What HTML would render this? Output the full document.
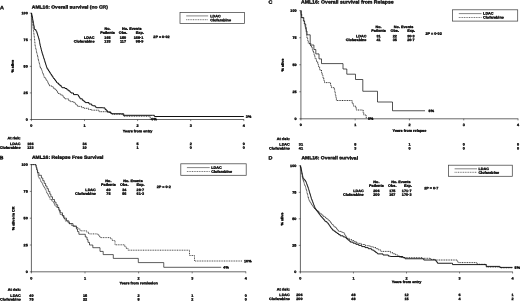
<!DOCTYPE html>
<html><head><meta charset="utf-8"><title>AML16 survival</title>
<style>
html,body{margin:0;padding:0;background:#fff;}
body{width:520px;height:301px;overflow:hidden;}
svg{display:block;}
svg text{font-family:"Liberation Sans",sans-serif;font-weight:bold;fill:#111;stroke:#111;stroke-width:0.36px;stroke-linejoin:round;text-rendering:geometricPrecision;}
</style></head><body>
<svg width="520" height="301" viewBox="0 0 520 301">
<rect x="0" y="0" width="520" height="301" fill="#ffffff"/>
<line x1="31.40" y1="12.90" x2="31.40" y2="119.90" stroke="#333" stroke-width="0.75"/>
<line x1="31.10" y1="119.50" x2="244.10" y2="119.50" stroke="#444" stroke-width="0.8"/>
<line x1="29.80" y1="119.50" x2="31.40" y2="119.50" stroke="#333" stroke-width="0.6"/>
<text transform="translate(27.80 120.64) rotate(0.03) scale(1.11 1)" font-size="3.402" text-anchor="end">0</text>
<line x1="29.80" y1="92.92" x2="31.40" y2="92.92" stroke="#333" stroke-width="0.6"/>
<text transform="translate(27.80 94.06) rotate(0.03) scale(1.11 1)" font-size="3.402" text-anchor="end">25</text>
<line x1="29.80" y1="66.35" x2="31.40" y2="66.35" stroke="#333" stroke-width="0.6"/>
<text transform="translate(27.80 67.49) rotate(0.03) scale(1.11 1)" font-size="3.402" text-anchor="end">50</text>
<line x1="29.80" y1="39.78" x2="31.40" y2="39.78" stroke="#333" stroke-width="0.6"/>
<text transform="translate(27.80 40.91) rotate(0.03) scale(1.11 1)" font-size="3.402" text-anchor="end">75</text>
<line x1="29.80" y1="13.20" x2="31.40" y2="13.20" stroke="#333" stroke-width="0.6"/>
<text transform="translate(27.80 14.34) rotate(0.03) scale(1.11 1)" font-size="3.402" text-anchor="end">100</text>
<line x1="31.40" y1="119.50" x2="31.40" y2="121.10" stroke="#333" stroke-width="0.6"/>
<text transform="translate(31.40 126.64) rotate(0.03) scale(1.11 1)" font-size="3.402" text-anchor="middle">0</text>
<line x1="84.50" y1="119.50" x2="84.50" y2="121.10" stroke="#333" stroke-width="0.6"/>
<text transform="translate(84.50 126.64) rotate(0.03) scale(1.11 1)" font-size="3.402" text-anchor="middle">1</text>
<line x1="137.60" y1="119.50" x2="137.60" y2="121.10" stroke="#333" stroke-width="0.6"/>
<text transform="translate(137.60 126.64) rotate(0.03) scale(1.11 1)" font-size="3.402" text-anchor="middle">2</text>
<line x1="190.70" y1="119.50" x2="190.70" y2="121.10" stroke="#333" stroke-width="0.6"/>
<text transform="translate(190.70 126.64) rotate(0.03) scale(1.11 1)" font-size="3.402" text-anchor="middle">3</text>
<line x1="243.80" y1="119.50" x2="243.80" y2="121.10" stroke="#333" stroke-width="0.6"/>
<text transform="translate(243.80 126.64) rotate(0.03) scale(1.11 1)" font-size="3.402" text-anchor="middle">4</text>
<text transform="translate(137.60 132.14) rotate(0.03) scale(1.11 1)" font-size="3.402" text-anchor="middle">Years from entry</text>
<text transform="translate(13.74,66.20) rotate(-89.97) scale(1.11 1)" font-size="3.402" text-anchor="middle">% alive</text>
<text transform="translate(-0.10 9.20) rotate(0.03) scale(1.11 1)" font-size="4.860" text-anchor="start">A</text>
<text transform="translate(31.80 8.50) rotate(0.03) scale(1.11 1)" font-size="4.518" text-anchor="start">AML16: Overall survival (no CR)</text>
<rect x="180.00" y="12.40" width="64.60" height="11.00" fill="none" stroke="#444" stroke-width="0.75"/>
<line x1="186.20" y1="15.90" x2="208.20" y2="15.90" stroke="#666" stroke-width="0.8"/>
<line x1="186.20" y1="19.70" x2="208.20" y2="19.70" stroke="#333" stroke-width="0.7" stroke-dasharray="1.0 0.7"/>
<text transform="translate(210.30 17.24) rotate(0.03) scale(1.11 1)" font-size="3.402" text-anchor="start">LDAC</text>
<text transform="translate(210.30 21.14) rotate(0.03) scale(1.11 1)" font-size="3.402" text-anchor="start">Clofarabine</text>
<text transform="translate(107.50 29.84) rotate(0.03) scale(1.11 1)" font-size="3.402" text-anchor="middle">No.</text>
<text transform="translate(107.50 33.64) rotate(0.03) scale(1.11 1)" font-size="3.402" text-anchor="middle">Patients</text>
<text transform="translate(131.80 29.84) rotate(0.03) scale(1.11 1)" font-size="3.402" text-anchor="middle">No. Events</text>
<text transform="translate(123.00 33.64) rotate(0.03) scale(1.11 1)" font-size="3.402" text-anchor="middle">Obs.</text>
<text transform="translate(143.80 33.64) rotate(0.03) scale(1.11 1)" font-size="3.402" text-anchor="end">Exp.</text>
<text transform="translate(94.50 38.64) rotate(0.03) scale(1.11 1)" font-size="3.402" text-anchor="end">LDAC</text>
<text transform="translate(94.50 42.54) rotate(0.03) scale(1.11 1)" font-size="3.402" text-anchor="end">Clofarabine</text>
<text transform="translate(107.50 38.64) rotate(0.03) scale(1.11 1)" font-size="3.402" text-anchor="middle">166</text>
<text transform="translate(107.50 42.54) rotate(0.03) scale(1.11 1)" font-size="3.402" text-anchor="middle">133</text>
<text transform="translate(123.00 38.64) rotate(0.03) scale(1.11 1)" font-size="3.402" text-anchor="middle">150</text>
<text transform="translate(123.00 42.54) rotate(0.03) scale(1.11 1)" font-size="3.402" text-anchor="middle">117</text>
<text transform="translate(143.40 38.64) rotate(0.03) scale(1.11 1)" font-size="3.402" text-anchor="end">168·1</text>
<text transform="translate(143.40 42.54) rotate(0.03) scale(1.11 1)" font-size="3.402" text-anchor="end">98·9</text>
<text transform="translate(153.30 37.94) rotate(0.03) scale(1.11 1)" font-size="3.402" text-anchor="start">2P = 0·02</text>
<text transform="translate(20.50 139.14) rotate(0.03) scale(1.11 1)" font-size="3.402" text-anchor="end">At risk:</text>
<text transform="translate(20.50 145.04) rotate(0.03) scale(1.11 1)" font-size="3.402" text-anchor="end">LDAC</text>
<text transform="translate(20.50 148.84) rotate(0.03) scale(1.11 1)" font-size="3.402" text-anchor="end">Clofarabine</text>
<text transform="translate(30.40 145.04) rotate(0.03) scale(1.11 1)" font-size="3.402" text-anchor="middle">166</text>
<text transform="translate(30.40 148.84) rotate(0.03) scale(1.11 1)" font-size="3.402" text-anchor="middle">133</text>
<text transform="translate(84.50 145.04) rotate(0.03) scale(1.11 1)" font-size="3.402" text-anchor="middle">34</text>
<text transform="translate(84.50 148.84) rotate(0.03) scale(1.11 1)" font-size="3.402" text-anchor="middle">10</text>
<text transform="translate(137.60 145.04) rotate(0.03) scale(1.11 1)" font-size="3.402" text-anchor="middle">5</text>
<text transform="translate(137.60 148.84) rotate(0.03) scale(1.11 1)" font-size="3.402" text-anchor="middle">1</text>
<text transform="translate(190.70 145.04) rotate(0.03) scale(1.11 1)" font-size="3.402" text-anchor="middle">2</text>
<text transform="translate(190.70 148.84) rotate(0.03) scale(1.11 1)" font-size="3.402" text-anchor="middle">0</text>
<text transform="translate(243.80 145.04) rotate(0.03) scale(1.11 1)" font-size="3.402" text-anchor="middle">0</text>
<text transform="translate(243.80 148.84) rotate(0.03) scale(1.11 1)" font-size="3.402" text-anchor="middle">0</text>
<polyline points="31.40,13.20 31.54,13.20 31.54,14.40 31.68,14.40 31.68,15.60 31.82,15.60 31.82,16.80 31.96,16.80 31.96,18.00 32.10,18.00 32.10,19.20 32.23,19.20 32.23,20.40 32.37,20.40 32.37,21.60 32.51,21.60 32.51,22.80 32.65,22.80 32.65,24.00 32.79,24.00 32.79,25.20 32.93,25.20 32.93,26.40 33.00,26.40 33.00,27.00 33.15,27.00 33.15,28.20 33.30,28.20 33.30,29.40 33.44,29.40 33.44,30.60 33.59,30.60 33.59,31.80 33.74,31.80 33.74,33.00 33.89,33.00 33.89,34.20 34.03,34.20 34.03,35.40 34.18,35.40 34.18,36.60 34.33,36.60 34.33,37.80 34.48,37.80 34.48,39.00 34.60,39.00 34.60,40.00 34.70,40.00 34.70,41.20 34.80,41.20 34.80,42.40 34.91,42.40 34.91,43.60 35.01,43.60 35.01,44.80 35.10,44.80 35.10,45.90 35.37,45.90 35.37,47.10 35.64,47.10 35.64,48.30 35.91,48.30 35.91,49.50 36.17,49.50 36.17,50.70 36.44,50.70 36.44,51.90 36.60,51.90 36.60,52.60 36.89,52.60 36.89,53.80 37.18,53.80 37.18,55.00 37.47,55.00 37.47,56.20 37.75,56.20 37.75,57.40 38.04,57.40 38.04,58.60 38.33,58.60 38.33,59.80 38.62,59.80 38.62,61.00 38.91,61.00 38.91,62.20 39.20,62.20 39.20,63.40 39.49,63.40 39.49,64.60 39.77,64.60 39.77,65.80 40.06,65.80 40.06,67.00 40.40,67.00 40.40,68.40 41.30,68.40 41.30,69.60 41.60,69.60 41.60,70.00 42.03,70.00 42.03,71.20 42.46,71.20 42.46,72.40 42.89,72.40 42.89,73.60 43.32,73.60 43.32,74.80 43.75,74.80 43.75,76.00 44.18,76.00 44.18,77.20 44.40,77.20 44.40,77.80 45.38,77.80 45.38,79.00 46.35,79.00 46.35,80.20 47.00,80.20 47.00,81.00 47.62,81.00 47.62,82.20 48.25,82.20 48.25,83.40 48.88,83.40 48.88,84.60 49.50,84.60 49.50,85.80 52.00,85.80 52.00,87.00 53.43,87.00 53.43,88.20 54.85,88.20 54.85,89.40 55.80,89.40 55.80,90.20 56.60,90.20 56.60,91.40 57.40,91.40 57.40,92.60 58.00,92.60 58.00,93.50 60.05,93.50 60.05,94.70 62.10,94.70 62.10,95.90 63.30,95.90 63.30,97.10 64.50,97.10 64.50,98.30 65.00,98.30 65.00,98.80 68.40,98.80 68.40,100.30 70.00,100.30 70.00,101.60 73.80,101.60 73.80,102.60 75.00,102.60 75.00,103.80 76.20,103.80 76.20,105.00 77.60,105.00 77.60,106.40 81.58,106.40 81.58,107.60 83.90,107.60 83.90,108.30 88.70,108.30 88.70,109.50 91.50,109.50 91.50,110.20 99.00,110.20 99.00,111.70 107.90,111.70 107.90,112.50 110.79,112.50 110.79,113.70 112.00,113.70 112.00,114.20 121.00,114.20 121.00,114.40 123.00,114.40 123.00,115.60 124.00,115.60 124.00,116.20 150.00,116.20 150.11,116.20 150.11,117.40 150.22,117.40 150.22,118.60 150.30,118.60 150.30,119.50" fill="none" stroke="#000" stroke-width="0.8" stroke-linejoin="miter" stroke-dasharray="1.0 0.7"/>
<polyline points="31.40,13.20 31.67,13.20 31.67,14.50 31.95,14.50 31.95,15.80 32.20,15.80 32.20,17.00 32.44,17.00 32.44,18.30 32.68,18.30 32.68,19.60 32.92,19.60 32.92,20.90 33.16,20.90 33.16,22.20 33.40,22.20 33.40,23.50 33.64,23.50 33.64,24.80 33.87,24.80 33.87,26.10 34.11,26.10 34.11,27.40 34.35,27.40 34.35,28.70 34.50,28.70 34.50,29.50 35.80,29.50 35.80,30.80 36.40,30.80 36.40,31.40 36.81,31.40 36.81,32.70 37.22,32.70 37.22,34.00 37.62,34.00 37.62,35.30 38.03,35.30 38.03,36.60 38.44,36.60 38.44,37.90 38.85,37.90 38.85,39.20 39.10,39.20 39.10,40.00 39.34,40.00 39.34,41.30 39.58,41.30 39.58,42.60 39.83,42.60 39.83,43.90 40.07,43.90 40.07,45.20 40.20,45.20 40.20,45.90 40.53,45.90 40.53,47.20 40.86,47.20 40.86,48.50 41.19,48.50 41.19,49.80 41.52,49.80 41.52,51.10 41.90,51.10 41.90,52.60 42.31,52.60 42.31,53.90 42.72,53.90 42.72,55.20 43.13,55.20 43.13,56.50 43.55,56.50 43.55,57.80 43.96,57.80 43.96,59.10 44.37,59.10 44.37,60.40 44.78,60.40 44.78,61.70 45.19,61.70 45.19,63.00 45.60,63.00 45.60,64.30 46.01,64.30 46.01,65.60 46.43,65.60 46.43,66.90 46.90,66.90 46.90,68.40 47.74,68.40 47.74,69.70 48.57,69.70 48.57,71.00 49.41,71.00 49.41,72.30 50.24,72.30 50.24,73.60 50.50,73.60 50.50,74.00 51.37,74.00 51.37,75.30 52.23,75.30 52.23,76.60 53.10,76.60 53.10,77.90 53.50,77.90 53.50,78.50 54.51,78.50 54.51,79.80 55.52,79.80 55.52,81.10 56.53,81.10 56.53,82.40 57.00,82.40 57.00,83.00 58.41,83.00 58.41,84.30 59.82,84.30 59.82,85.60 61.23,85.60 61.23,86.90 62.10,86.90 62.10,87.70 65.00,87.70 65.00,88.50 66.92,88.50 66.92,89.80 68.40,89.80 68.40,90.80 69.94,90.80 69.94,92.10 71.00,92.10 71.00,93.00 73.50,93.00 73.50,94.60 77.60,94.60 77.60,95.00 78.46,95.00 78.46,96.30 79.31,96.30 79.31,97.60 80.10,97.60 80.10,98.80 82.30,98.80 82.30,100.30 83.94,100.30 83.94,101.60 85.20,101.60 85.20,102.60 89.00,102.60 89.00,104.00 91.67,104.00 91.67,105.30 92.70,105.30 92.70,105.80 95.30,105.80 95.30,107.10 96.50,107.10 96.50,107.70 102.80,107.70 102.80,107.90 105.00,107.90 105.00,109.40 106.30,109.40 106.30,110.70 107.50,110.70 107.50,111.90 110.59,111.90 110.59,113.20 111.90,113.20 111.90,113.75 121.25,113.75 123.75,113.75 123.75,115.30 152.50,115.30 154.40,115.30 154.40,116.50 243.80,116.50" fill="none" stroke="#111" stroke-width="1.0" stroke-linejoin="miter"/>
<text transform="translate(245.80 117.64) rotate(0.03) scale(1.11 1)" font-size="3.402" text-anchor="start">3%</text>
<text transform="translate(151.30 120.34) rotate(0.03) scale(1.11 1)" font-size="3.402" text-anchor="start">0%</text>
<line x1="31.40" y1="164.30" x2="31.40" y2="272.20" stroke="#333" stroke-width="0.75"/>
<line x1="31.10" y1="271.80" x2="246.10" y2="271.80" stroke="#444" stroke-width="0.8"/>
<line x1="29.80" y1="271.80" x2="31.40" y2="271.80" stroke="#333" stroke-width="0.6"/>
<text transform="translate(27.80 272.94) rotate(0.03) scale(1.11 1)" font-size="3.402" text-anchor="end">0</text>
<line x1="29.80" y1="245.00" x2="31.40" y2="245.00" stroke="#333" stroke-width="0.6"/>
<text transform="translate(27.80 246.14) rotate(0.03) scale(1.11 1)" font-size="3.402" text-anchor="end">25</text>
<line x1="29.80" y1="218.20" x2="31.40" y2="218.20" stroke="#333" stroke-width="0.6"/>
<text transform="translate(27.80 219.34) rotate(0.03) scale(1.11 1)" font-size="3.402" text-anchor="end">50</text>
<line x1="29.80" y1="191.40" x2="31.40" y2="191.40" stroke="#333" stroke-width="0.6"/>
<text transform="translate(27.80 192.54) rotate(0.03) scale(1.11 1)" font-size="3.402" text-anchor="end">75</text>
<line x1="29.80" y1="164.60" x2="31.40" y2="164.60" stroke="#333" stroke-width="0.6"/>
<text transform="translate(27.80 165.74) rotate(0.03) scale(1.11 1)" font-size="3.402" text-anchor="end">100</text>
<line x1="31.40" y1="271.80" x2="31.40" y2="273.40" stroke="#333" stroke-width="0.6"/>
<text transform="translate(31.40 279.44) rotate(0.03) scale(1.11 1)" font-size="3.402" text-anchor="middle">0</text>
<line x1="85.00" y1="271.80" x2="85.00" y2="273.40" stroke="#333" stroke-width="0.6"/>
<text transform="translate(85.00 279.44) rotate(0.03) scale(1.11 1)" font-size="3.402" text-anchor="middle">1</text>
<line x1="138.60" y1="271.80" x2="138.60" y2="273.40" stroke="#333" stroke-width="0.6"/>
<text transform="translate(138.60 279.44) rotate(0.03) scale(1.11 1)" font-size="3.402" text-anchor="middle">2</text>
<line x1="192.20" y1="271.80" x2="192.20" y2="273.40" stroke="#333" stroke-width="0.6"/>
<text transform="translate(192.20 279.44) rotate(0.03) scale(1.11 1)" font-size="3.402" text-anchor="middle">3</text>
<line x1="245.80" y1="271.80" x2="245.80" y2="273.40" stroke="#333" stroke-width="0.6"/>
<text transform="translate(245.80 279.44) rotate(0.03) scale(1.11 1)" font-size="3.402" text-anchor="middle">4</text>
<text transform="translate(138.60 284.14) rotate(0.03) scale(1.11 1)" font-size="3.402" text-anchor="middle">Years from remission</text>
<text transform="translate(14.44,218.40) rotate(-89.97) scale(1.11 1)" font-size="3.402" text-anchor="middle">% alive in CR</text>
<text transform="translate(-0.40 159.30) rotate(0.03) scale(1.11 1)" font-size="4.860" text-anchor="start">B</text>
<text transform="translate(32.00 158.70) rotate(0.03) scale(1.11 1)" font-size="4.518" text-anchor="start">AML16: Relapse Free Survival</text>
<rect x="180.80" y="163.80" width="65.40" height="11.50" fill="none" stroke="#444" stroke-width="0.75"/>
<line x1="186.90" y1="167.60" x2="209.70" y2="167.60" stroke="#666" stroke-width="0.8"/>
<line x1="186.90" y1="171.50" x2="209.70" y2="171.50" stroke="#333" stroke-width="0.7" stroke-dasharray="1.0 0.7"/>
<text transform="translate(211.30 168.64) rotate(0.03) scale(1.11 1)" font-size="3.402" text-anchor="start">LDAC</text>
<text transform="translate(211.30 172.84) rotate(0.03) scale(1.11 1)" font-size="3.402" text-anchor="start">Clofarabine</text>
<text transform="translate(108.40 182.04) rotate(0.03) scale(1.11 1)" font-size="3.402" text-anchor="middle">No.</text>
<text transform="translate(108.40 185.64) rotate(0.03) scale(1.11 1)" font-size="3.402" text-anchor="middle">Patients</text>
<text transform="translate(133.00 182.04) rotate(0.03) scale(1.11 1)" font-size="3.402" text-anchor="middle">No. Events</text>
<text transform="translate(124.30 185.64) rotate(0.03) scale(1.11 1)" font-size="3.402" text-anchor="middle">Obs.</text>
<text transform="translate(144.50 185.64) rotate(0.03) scale(1.11 1)" font-size="3.402" text-anchor="end">Exp.</text>
<text transform="translate(95.80 190.94) rotate(0.03) scale(1.11 1)" font-size="3.402" text-anchor="end">LDAC</text>
<text transform="translate(95.80 194.64) rotate(0.03) scale(1.11 1)" font-size="3.402" text-anchor="end">Clofarabine</text>
<text transform="translate(108.40 190.94) rotate(0.03) scale(1.11 1)" font-size="3.402" text-anchor="middle">40</text>
<text transform="translate(108.40 194.64) rotate(0.03) scale(1.11 1)" font-size="3.402" text-anchor="middle">75</text>
<text transform="translate(124.30 190.94) rotate(0.03) scale(1.11 1)" font-size="3.402" text-anchor="middle">34</text>
<text transform="translate(124.30 194.64) rotate(0.03) scale(1.11 1)" font-size="3.402" text-anchor="middle">56</text>
<text transform="translate(144.10 190.94) rotate(0.03) scale(1.11 1)" font-size="3.402" text-anchor="end">28·7</text>
<text transform="translate(144.10 194.64) rotate(0.03) scale(1.11 1)" font-size="3.402" text-anchor="end">61·3</text>
<text transform="translate(156.70 187.94) rotate(0.03) scale(1.11 1)" font-size="3.402" text-anchor="start">2P = 0·2</text>
<text transform="translate(20.80 290.74) rotate(0.03) scale(1.11 1)" font-size="3.402" text-anchor="end">At risk:</text>
<text transform="translate(20.80 296.64) rotate(0.03) scale(1.11 1)" font-size="3.402" text-anchor="end">LDAC</text>
<text transform="translate(20.80 300.54) rotate(0.03) scale(1.11 1)" font-size="3.402" text-anchor="end">Clofarabine</text>
<text transform="translate(31.40 296.64) rotate(0.03) scale(1.11 1)" font-size="3.402" text-anchor="middle">40</text>
<text transform="translate(31.40 300.54) rotate(0.03) scale(1.11 1)" font-size="3.402" text-anchor="middle">75</text>
<text transform="translate(85.00 296.64) rotate(0.03) scale(1.11 1)" font-size="3.402" text-anchor="middle">15</text>
<text transform="translate(85.00 300.54) rotate(0.03) scale(1.11 1)" font-size="3.402" text-anchor="middle">22</text>
<text transform="translate(138.60 296.64) rotate(0.03) scale(1.11 1)" font-size="3.402" text-anchor="middle">2</text>
<text transform="translate(138.60 300.54) rotate(0.03) scale(1.11 1)" font-size="3.402" text-anchor="middle">8</text>
<text transform="translate(192.20 296.64) rotate(0.03) scale(1.11 1)" font-size="3.402" text-anchor="middle">1</text>
<text transform="translate(192.20 300.54) rotate(0.03) scale(1.11 1)" font-size="3.402" text-anchor="middle">2</text>
<text transform="translate(245.80 296.64) rotate(0.03) scale(1.11 1)" font-size="3.402" text-anchor="middle">0</text>
<text transform="translate(245.80 300.54) rotate(0.03) scale(1.11 1)" font-size="3.402" text-anchor="middle">0</text>
<polyline points="31.40,164.60 35.70,164.60 36.04,164.60 36.04,166.03 36.37,166.03 36.37,167.46 36.50,167.46 36.50,168.00 36.79,168.00 36.79,169.43 37.08,169.43 37.08,170.86 37.37,170.86 37.37,172.29 37.66,172.29 37.66,173.72 37.95,173.72 37.95,175.15 38.30,175.15 38.30,176.90 39.08,176.90 39.08,178.33 40.00,178.33 40.00,180.00 40.77,180.00 40.77,181.43 41.55,181.43 41.55,182.86 42.32,182.86 42.32,184.29 43.10,184.29 43.10,185.72 43.87,185.72 43.87,187.15 44.65,187.15 44.65,188.58 45.20,188.58 45.20,189.60 45.92,189.60 45.92,191.03 46.63,191.03 46.63,192.46 47.35,192.46 47.35,193.89 48.06,193.89 48.06,195.32 48.40,195.32 48.40,196.00 49.14,196.00 49.14,197.43 49.87,197.43 49.87,198.86 50.20,198.86 50.20,199.50 51.80,199.50 51.80,200.93 53.00,200.93 53.00,202.00 53.72,202.00 53.72,203.43 54.43,203.43 54.43,204.86 55.00,204.86 55.00,206.00 56.67,206.00 56.67,207.43 58.50,207.43 58.50,209.00 58.97,209.00 58.97,210.43 59.44,210.43 59.44,211.86 59.90,211.86 59.90,213.29 60.30,213.29 60.30,214.50 62.23,214.50 62.23,215.93 63.00,215.93 63.00,216.50 63.73,216.50 63.73,217.93 64.46,217.93 64.46,219.36 65.30,219.36 65.30,221.00 68.00,221.00 68.00,222.50 69.72,222.50 69.72,223.93 71.60,223.93 71.60,225.50 74.00,225.50 74.00,226.00 76.40,226.00 76.40,227.60 78.10,227.60 78.10,229.03 80.20,229.03 80.20,230.80 86.50,230.80 86.50,232.00 88.38,232.00 88.38,233.43 89.00,233.43 89.00,233.90 96.60,233.90 98.07,233.90 98.07,235.33 99.54,235.33 99.54,236.76 100.40,236.76 100.40,237.60 109.40,237.60 110.83,237.60 110.83,239.03 112.30,239.03 112.30,240.50 115.00,240.50 115.00,244.80 124.20,244.80 124.72,244.80 124.72,246.23 125.00,246.23 125.00,247.00 126.34,247.00 126.34,248.43 128.00,248.43 128.00,250.20 189.50,250.20 189.50,255.50 194.50,255.50 194.50,261.00 242.00,261.00" fill="none" stroke="#000" stroke-width="0.7" stroke-linejoin="miter" stroke-dasharray="1.0 0.7"/>
<polyline points="31.40,164.60 36.00,164.60 36.00,167.30 36.80,167.30 36.80,170.00 37.60,170.00 37.60,172.60 38.90,172.60 38.90,175.30 41.40,175.30 41.40,178.00 42.80,178.00 42.80,180.70 44.20,180.70 44.20,183.40 45.60,183.40 45.60,186.00 47.00,186.00 47.00,188.70 48.40,188.70 48.40,191.40 49.80,191.40 49.80,194.10 50.90,194.10 50.90,196.80 52.50,196.80 52.50,199.50 54.50,199.50 54.50,202.10 56.00,202.10 56.00,204.80 57.70,204.80 57.70,207.50 59.00,207.50 59.00,210.20 60.30,210.20 60.30,212.80 62.50,212.80 62.50,215.50 64.00,215.50 64.00,218.20 66.50,218.20 66.50,220.90 69.00,220.90 69.00,223.60 73.00,223.60 73.00,226.30 76.40,226.30 76.40,229.00 77.50,229.00 77.50,231.60 78.90,231.60 78.90,234.30 85.30,234.30 85.30,237.00 87.00,237.00 87.00,239.70 88.00,239.70 88.00,242.40 89.50,242.40 89.50,245.00 92.80,245.00 92.80,247.70 100.00,247.70 100.00,251.40 103.20,251.40 103.20,254.60 113.30,254.60 113.30,258.40 138.30,258.40 138.30,262.60 163.75,262.60 163.75,267.30 221.20,267.30" fill="none" stroke="#111" stroke-width="0.68" stroke-linejoin="miter"/>
<text transform="translate(244.00 262.24) rotate(0.03) scale(1.11 1)" font-size="3.402" text-anchor="start">10%</text>
<text transform="translate(223.30 268.44) rotate(0.03) scale(1.11 1)" font-size="3.402" text-anchor="start">4%</text>
<line x1="300.90" y1="10.40" x2="300.90" y2="119.20" stroke="#777" stroke-width="1.1"/>
<line x1="300.60" y1="118.80" x2="518.30" y2="118.80" stroke="#444" stroke-width="0.8"/>
<line x1="299.30" y1="118.80" x2="300.90" y2="118.80" stroke="#333" stroke-width="0.6"/>
<text transform="translate(296.60 119.94) rotate(0.03) scale(1.11 1)" font-size="3.402" text-anchor="end">0</text>
<line x1="299.30" y1="91.78" x2="300.90" y2="91.78" stroke="#333" stroke-width="0.6"/>
<text transform="translate(296.60 92.91) rotate(0.03) scale(1.11 1)" font-size="3.402" text-anchor="end">25</text>
<line x1="299.30" y1="64.75" x2="300.90" y2="64.75" stroke="#333" stroke-width="0.6"/>
<text transform="translate(296.60 65.89) rotate(0.03) scale(1.11 1)" font-size="3.402" text-anchor="end">50</text>
<line x1="299.30" y1="37.72" x2="300.90" y2="37.72" stroke="#333" stroke-width="0.6"/>
<text transform="translate(296.60 38.86) rotate(0.03) scale(1.11 1)" font-size="3.402" text-anchor="end">75</text>
<line x1="299.30" y1="10.70" x2="300.90" y2="10.70" stroke="#333" stroke-width="0.6"/>
<text transform="translate(296.60 11.84) rotate(0.03) scale(1.11 1)" font-size="3.402" text-anchor="end">100</text>
<line x1="300.90" y1="118.80" x2="300.90" y2="120.40" stroke="#333" stroke-width="0.6"/>
<text transform="translate(300.90 125.94) rotate(0.03) scale(1.11 1)" font-size="3.402" text-anchor="middle">0</text>
<line x1="355.17" y1="118.80" x2="355.17" y2="120.40" stroke="#333" stroke-width="0.6"/>
<text transform="translate(355.17 125.94) rotate(0.03) scale(1.11 1)" font-size="3.402" text-anchor="middle">1</text>
<line x1="409.45" y1="118.80" x2="409.45" y2="120.40" stroke="#333" stroke-width="0.6"/>
<text transform="translate(409.45 125.94) rotate(0.03) scale(1.11 1)" font-size="3.402" text-anchor="middle">2</text>
<line x1="463.73" y1="118.80" x2="463.73" y2="120.40" stroke="#333" stroke-width="0.6"/>
<text transform="translate(463.73 125.94) rotate(0.03) scale(1.11 1)" font-size="3.402" text-anchor="middle">3</text>
<line x1="518.00" y1="118.80" x2="518.00" y2="120.40" stroke="#333" stroke-width="0.6"/>
<text transform="translate(518.00 125.94) rotate(0.03) scale(1.11 1)" font-size="3.402" text-anchor="middle">4</text>
<text transform="translate(409.45 131.64) rotate(0.03) scale(1.11 1)" font-size="3.402" text-anchor="middle">Years from relapse</text>
<text transform="translate(283.74,65.00) rotate(-89.97) scale(1.11 1)" font-size="3.402" text-anchor="middle">% alive</text>
<text transform="translate(268.60 3.80) rotate(0.03) scale(1.11 1)" font-size="4.860" text-anchor="start">C</text>
<text transform="translate(300.90 3.55) rotate(0.03) scale(1.11 1)" font-size="4.680" text-anchor="start">AML16: Overall survival from Relapse</text>
<rect x="452.60" y="9.80" width="65.10" height="11.30" fill="none" stroke="#444" stroke-width="0.75"/>
<line x1="458.80" y1="13.60" x2="481.50" y2="13.60" stroke="#666" stroke-width="0.8"/>
<line x1="458.80" y1="17.50" x2="481.50" y2="17.50" stroke="#333" stroke-width="0.7" stroke-dasharray="1.0 0.7"/>
<text transform="translate(483.10 14.44) rotate(0.03) scale(1.11 1)" font-size="3.402" text-anchor="start">LDAC</text>
<text transform="translate(483.10 18.44) rotate(0.03) scale(1.11 1)" font-size="3.402" text-anchor="start">Clofarabine</text>
<text transform="translate(378.60 28.04) rotate(0.03) scale(1.11 1)" font-size="3.402" text-anchor="middle">No.</text>
<text transform="translate(378.60 31.64) rotate(0.03) scale(1.11 1)" font-size="3.402" text-anchor="middle">Patients</text>
<text transform="translate(403.60 28.04) rotate(0.03) scale(1.11 1)" font-size="3.402" text-anchor="middle">No. Events</text>
<text transform="translate(394.80 31.64) rotate(0.03) scale(1.11 1)" font-size="3.402" text-anchor="middle">Obs.</text>
<text transform="translate(415.10 31.64) rotate(0.03) scale(1.11 1)" font-size="3.402" text-anchor="end">Exp.</text>
<text transform="translate(366.40 37.34) rotate(0.03) scale(1.11 1)" font-size="3.402" text-anchor="end">LDAC</text>
<text transform="translate(366.40 40.94) rotate(0.03) scale(1.11 1)" font-size="3.402" text-anchor="end">Clofarabine</text>
<text transform="translate(378.60 37.34) rotate(0.03) scale(1.11 1)" font-size="3.402" text-anchor="middle">31</text>
<text transform="translate(378.60 40.94) rotate(0.03) scale(1.11 1)" font-size="3.402" text-anchor="middle">41</text>
<text transform="translate(394.80 37.34) rotate(0.03) scale(1.11 1)" font-size="3.402" text-anchor="middle">22</text>
<text transform="translate(394.80 40.94) rotate(0.03) scale(1.11 1)" font-size="3.402" text-anchor="middle">35</text>
<text transform="translate(414.70 37.34) rotate(0.03) scale(1.11 1)" font-size="3.402" text-anchor="end">30·3</text>
<text transform="translate(414.70 40.94) rotate(0.03) scale(1.11 1)" font-size="3.402" text-anchor="end">26·7</text>
<text transform="translate(425.40 34.84) rotate(0.03) scale(1.11 1)" font-size="3.402" text-anchor="start">2P = 0·02</text>
<text transform="translate(289.80 139.94) rotate(0.03) scale(1.11 1)" font-size="3.402" text-anchor="end">At risk:</text>
<text transform="translate(289.80 145.54) rotate(0.03) scale(1.11 1)" font-size="3.402" text-anchor="end">LDAC</text>
<text transform="translate(289.80 149.54) rotate(0.03) scale(1.11 1)" font-size="3.402" text-anchor="end">Clofarabine</text>
<text transform="translate(300.90 145.54) rotate(0.03) scale(1.11 1)" font-size="3.402" text-anchor="middle">31</text>
<text transform="translate(300.90 149.54) rotate(0.03) scale(1.11 1)" font-size="3.402" text-anchor="middle">41</text>
<text transform="translate(355.17 145.54) rotate(0.03) scale(1.11 1)" font-size="3.402" text-anchor="middle">8</text>
<text transform="translate(355.17 149.54) rotate(0.03) scale(1.11 1)" font-size="3.402" text-anchor="middle">3</text>
<text transform="translate(409.45 145.54) rotate(0.03) scale(1.11 1)" font-size="3.402" text-anchor="middle">1</text>
<text transform="translate(409.45 149.54) rotate(0.03) scale(1.11 1)" font-size="3.402" text-anchor="middle">0</text>
<text transform="translate(463.73 145.54) rotate(0.03) scale(1.11 1)" font-size="3.402" text-anchor="middle">0</text>
<text transform="translate(463.73 149.54) rotate(0.03) scale(1.11 1)" font-size="3.402" text-anchor="middle">0</text>
<text transform="translate(518.00 145.54) rotate(0.03) scale(1.11 1)" font-size="3.402" text-anchor="middle">0</text>
<text transform="translate(518.00 149.54) rotate(0.03) scale(1.11 1)" font-size="3.402" text-anchor="middle">0</text>
<polyline points="300.90,10.70 300.97,10.70 300.97,13.33 301.00,13.33 301.00,14.50 301.40,14.50 301.40,17.80 303.40,17.80 303.40,20.90 304.15,20.90 304.15,23.53 304.90,23.53 304.90,26.16 305.20,26.16 305.20,27.20 305.72,27.20 305.72,29.83 306.23,29.83 306.23,32.46 306.40,32.46 306.40,33.30 306.72,33.30 306.72,35.93 307.00,35.93 307.00,38.30 307.67,38.30 307.67,40.93 308.30,40.93 308.30,43.40 310.80,43.40 310.80,46.00 311.40,46.00 311.40,47.60 312.40,47.60 312.40,50.23 313.30,50.23 313.30,52.60 314.09,52.60 314.09,55.23 314.89,55.23 314.89,57.86 315.20,57.86 315.20,58.90 316.49,58.90 316.49,61.53 317.70,61.53 317.70,64.00 318.53,64.00 318.53,66.63 319.60,66.63 319.60,70.00 321.50,70.00 321.50,72.80 322.10,72.80 322.10,75.00 322.93,75.00 322.93,77.63 323.76,77.63 323.76,80.26 324.50,80.26 324.50,82.60 329.60,82.60 330.55,82.60 330.55,85.23 331.40,85.23 331.40,87.60 334.30,87.60 334.30,89.80 334.82,89.80 334.82,92.43 335.33,92.43 335.33,95.06 335.85,95.06 335.85,97.69 336.40,97.69 336.40,100.50 351.00,100.50 352.17,100.50 352.17,103.13 353.00,103.13 353.00,105.00 353.75,105.00 353.75,106.25 356.00,106.25 356.00,108.00 356.25,108.00 356.25,110.00 362.50,110.00 363.16,110.00 363.16,112.63 363.75,112.63 363.75,115.00 366.25,115.00 366.25,118.80" fill="none" stroke="#000" stroke-width="0.8" stroke-linejoin="miter" stroke-dasharray="1.0 0.7"/>
<polyline points="300.90,10.70 301.20,10.70 301.20,14.00 301.70,14.00 301.70,17.50 303.80,17.50 303.80,20.80 304.60,20.80 304.60,24.00 305.70,24.00 305.70,27.50 306.30,27.50 306.30,31.00 307.00,31.00 307.00,34.80 310.20,34.80 310.20,45.00 313.90,45.00 313.90,49.50 315.80,49.50 315.80,53.90 319.00,53.90 319.00,58.90 321.50,58.90 321.50,63.60 343.00,63.60 343.00,69.00 346.80,69.00 346.80,74.20 355.50,74.20 355.50,79.50 362.80,79.50 362.80,91.25 377.50,91.25 377.50,102.00 392.50,102.00 392.50,110.75 425.00,110.75" fill="none" stroke="#111" stroke-width="0.72" stroke-linejoin="miter"/>
<text transform="translate(428.60 111.89) rotate(0.03) scale(1.11 1)" font-size="3.402" text-anchor="start">8%</text>
<text transform="translate(368.00 119.74) rotate(0.03) scale(1.11 1)" font-size="3.402" text-anchor="start">0%</text>
<line x1="300.40" y1="165.50" x2="300.40" y2="272.30" stroke="#333" stroke-width="0.75"/>
<line x1="300.10" y1="271.90" x2="512.90" y2="271.90" stroke="#444" stroke-width="0.8"/>
<line x1="298.80" y1="271.90" x2="300.40" y2="271.90" stroke="#333" stroke-width="0.6"/>
<text transform="translate(296.40 273.04) rotate(0.03) scale(1.11 1)" font-size="3.402" text-anchor="end">0</text>
<line x1="298.80" y1="245.38" x2="300.40" y2="245.38" stroke="#333" stroke-width="0.6"/>
<text transform="translate(296.40 246.51) rotate(0.03) scale(1.11 1)" font-size="3.402" text-anchor="end">25</text>
<line x1="298.80" y1="218.85" x2="300.40" y2="218.85" stroke="#333" stroke-width="0.6"/>
<text transform="translate(296.40 219.99) rotate(0.03) scale(1.11 1)" font-size="3.402" text-anchor="end">50</text>
<line x1="298.80" y1="192.32" x2="300.40" y2="192.32" stroke="#333" stroke-width="0.6"/>
<text transform="translate(296.40 193.46) rotate(0.03) scale(1.11 1)" font-size="3.402" text-anchor="end">75</text>
<line x1="298.80" y1="165.80" x2="300.40" y2="165.80" stroke="#333" stroke-width="0.6"/>
<text transform="translate(296.40 166.94) rotate(0.03) scale(1.11 1)" font-size="3.402" text-anchor="end">100</text>
<line x1="300.40" y1="271.90" x2="300.40" y2="273.50" stroke="#333" stroke-width="0.6"/>
<text transform="translate(300.40 279.44) rotate(0.03) scale(1.11 1)" font-size="3.402" text-anchor="middle">0</text>
<line x1="353.45" y1="271.90" x2="353.45" y2="273.50" stroke="#333" stroke-width="0.6"/>
<text transform="translate(353.45 279.44) rotate(0.03) scale(1.11 1)" font-size="3.402" text-anchor="middle">1</text>
<line x1="406.50" y1="271.90" x2="406.50" y2="273.50" stroke="#333" stroke-width="0.6"/>
<text transform="translate(406.50 279.44) rotate(0.03) scale(1.11 1)" font-size="3.402" text-anchor="middle">2</text>
<line x1="459.55" y1="271.90" x2="459.55" y2="273.50" stroke="#333" stroke-width="0.6"/>
<text transform="translate(459.55 279.44) rotate(0.03) scale(1.11 1)" font-size="3.402" text-anchor="middle">3</text>
<line x1="512.60" y1="271.90" x2="512.60" y2="273.50" stroke="#333" stroke-width="0.6"/>
<text transform="translate(512.60 279.44) rotate(0.03) scale(1.11 1)" font-size="3.402" text-anchor="middle">4</text>
<text transform="translate(406.50 283.04) rotate(0.03) scale(1.11 1)" font-size="3.402" text-anchor="middle">Years from entry</text>
<text transform="translate(283.34,219.00) rotate(-89.97) scale(1.11 1)" font-size="3.402" text-anchor="middle">% alive</text>
<text transform="translate(268.60 159.50) rotate(0.03) scale(1.11 1)" font-size="4.860" text-anchor="start">D</text>
<text transform="translate(301.40 159.35) rotate(0.03) scale(1.11 1)" font-size="4.518" text-anchor="start">AML16: Overall survival</text>
<rect x="448.50" y="165.20" width="63.80" height="11.10" fill="none" stroke="#444" stroke-width="0.75"/>
<line x1="454.60" y1="168.80" x2="477.00" y2="168.80" stroke="#666" stroke-width="0.8"/>
<line x1="454.60" y1="172.30" x2="477.00" y2="172.30" stroke="#333" stroke-width="0.7" stroke-dasharray="1.0 0.7"/>
<text transform="translate(478.40 169.94) rotate(0.03) scale(1.11 1)" font-size="3.402" text-anchor="start">LDAC</text>
<text transform="translate(478.40 173.84) rotate(0.03) scale(1.11 1)" font-size="3.402" text-anchor="start">Clofarabine</text>
<text transform="translate(376.40 183.04) rotate(0.03) scale(1.11 1)" font-size="3.402" text-anchor="middle">No.</text>
<text transform="translate(376.40 186.64) rotate(0.03) scale(1.11 1)" font-size="3.402" text-anchor="middle">Patients</text>
<text transform="translate(400.90 183.04) rotate(0.03) scale(1.11 1)" font-size="3.402" text-anchor="middle">No. Events</text>
<text transform="translate(392.30 186.64) rotate(0.03) scale(1.11 1)" font-size="3.402" text-anchor="middle">Obs.</text>
<text transform="translate(411.90 186.64) rotate(0.03) scale(1.11 1)" font-size="3.402" text-anchor="end">Exp.</text>
<text transform="translate(363.70 191.94) rotate(0.03) scale(1.11 1)" font-size="3.402" text-anchor="end">LDAC</text>
<text transform="translate(363.70 195.64) rotate(0.03) scale(1.11 1)" font-size="3.402" text-anchor="end">Clofarabine</text>
<text transform="translate(376.40 191.94) rotate(0.03) scale(1.11 1)" font-size="3.402" text-anchor="middle">206</text>
<text transform="translate(376.40 195.64) rotate(0.03) scale(1.11 1)" font-size="3.402" text-anchor="middle">200</text>
<text transform="translate(392.30 191.94) rotate(0.03) scale(1.11 1)" font-size="3.402" text-anchor="middle">175</text>
<text transform="translate(392.30 195.64) rotate(0.03) scale(1.11 1)" font-size="3.402" text-anchor="middle">167</text>
<text transform="translate(411.50 191.94) rotate(0.03) scale(1.11 1)" font-size="3.402" text-anchor="end">171·7</text>
<text transform="translate(411.50 195.64) rotate(0.03) scale(1.11 1)" font-size="3.402" text-anchor="end">170·3</text>
<text transform="translate(424.20 189.24) rotate(0.03) scale(1.11 1)" font-size="3.402" text-anchor="start">2P = 0·7</text>
<text transform="translate(289.80 290.54) rotate(0.03) scale(1.11 1)" font-size="3.402" text-anchor="end">At risk:</text>
<text transform="translate(289.80 295.94) rotate(0.03) scale(1.11 1)" font-size="3.402" text-anchor="end">LDAC</text>
<text transform="translate(289.80 300.04) rotate(0.03) scale(1.11 1)" font-size="3.402" text-anchor="end">Clofarabine</text>
<text transform="translate(299.40 295.94) rotate(0.03) scale(1.11 1)" font-size="3.402" text-anchor="middle">206</text>
<text transform="translate(299.40 300.04) rotate(0.03) scale(1.11 1)" font-size="3.402" text-anchor="middle">200</text>
<text transform="translate(353.45 295.94) rotate(0.03) scale(1.11 1)" font-size="3.402" text-anchor="middle">48</text>
<text transform="translate(353.45 300.04) rotate(0.03) scale(1.11 1)" font-size="3.402" text-anchor="middle">48</text>
<text transform="translate(406.50 295.94) rotate(0.03) scale(1.11 1)" font-size="3.402" text-anchor="middle">12</text>
<text transform="translate(406.50 300.04) rotate(0.03) scale(1.11 1)" font-size="3.402" text-anchor="middle">15</text>
<text transform="translate(459.55 295.94) rotate(0.03) scale(1.11 1)" font-size="3.402" text-anchor="middle">6</text>
<text transform="translate(459.55 300.04) rotate(0.03) scale(1.11 1)" font-size="3.402" text-anchor="middle">4</text>
<text transform="translate(512.60 295.94) rotate(0.03) scale(1.11 1)" font-size="3.402" text-anchor="middle">1</text>
<text transform="translate(512.60 300.04) rotate(0.03) scale(1.11 1)" font-size="3.402" text-anchor="middle">2</text>
<polyline points="300.40,165.80 300.58,165.80 300.58,166.90 300.77,166.90 300.77,168.00 300.95,168.00 300.95,169.10 301.14,169.10 301.14,170.20 301.32,170.20 301.32,171.30 301.51,171.30 301.51,172.40 301.69,172.40 301.69,173.50 301.88,173.50 301.88,174.60 302.06,174.60 302.06,175.70 302.25,175.70 302.25,176.80 302.43,176.80 302.43,177.90 302.60,177.90 302.60,178.90 302.97,178.90 302.97,180.00 303.33,180.00 303.33,181.10 303.70,181.10 303.70,182.20 304.07,182.20 304.07,183.30 304.43,183.30 304.43,184.40 304.80,184.40 304.80,185.50 305.17,185.50 305.17,186.60 305.53,186.60 305.53,187.70 305.90,187.70 305.90,188.80 306.27,188.80 306.27,189.90 306.40,189.90 306.40,190.30 306.67,190.30 306.67,191.40 306.94,191.40 306.94,192.50 307.21,192.50 307.21,193.60 307.48,193.60 307.48,194.70 307.75,194.70 307.75,195.80 308.02,195.80 308.02,196.90 308.29,196.90 308.29,198.00 308.56,198.00 308.56,199.10 308.80,199.10 308.80,200.10 309.51,200.10 309.51,201.20 310.23,201.20 310.23,202.30 310.94,202.30 310.94,203.40 311.65,203.40 311.65,204.50 312.36,204.50 312.36,205.60 313.07,205.60 313.07,206.70 313.79,206.70 313.79,207.80 314.50,207.80 314.50,208.90 315.81,208.90 315.81,210.00 317.11,210.00 317.11,211.10 318.42,211.10 318.42,212.20 319.72,212.20 319.72,213.30 321.03,213.30 321.03,214.40 322.10,214.40 322.10,215.30 323.49,215.30 323.49,216.40 324.87,216.40 324.87,217.50 326.26,217.50 326.26,218.60 327.64,218.60 327.64,219.70 328.40,219.70 328.40,220.30 329.39,220.30 329.39,221.40 330.38,221.40 330.38,222.50 331.38,222.50 331.38,223.60 332.37,223.60 332.37,224.70 333.36,224.70 333.36,225.80 333.90,225.80 333.90,226.40 335.00,226.40 335.00,227.50 336.10,227.50 336.10,228.60 337.20,228.60 337.20,229.70 338.30,229.70 338.30,230.80 338.90,230.80 338.90,231.40 341.85,231.40 341.85,232.50 344.00,232.50 344.00,233.30 344.67,233.30 344.67,234.40 345.34,234.40 345.34,235.50 346.01,235.50 346.01,236.60 346.67,236.60 346.67,237.70 347.10,237.70 347.10,238.40 349.48,238.40 349.48,239.50 351.85,239.50 351.85,240.60 354.23,240.60 354.23,241.70 356.60,241.70 356.60,242.80 357.90,242.80 357.90,243.40 361.30,243.40 361.30,244.50 365.00,244.50 365.00,245.70 370.09,245.70 370.09,246.80 373.80,246.80 373.80,247.60 376.00,247.60 376.00,248.70 378.20,248.70 378.20,249.80 380.40,249.80 380.40,250.90 381.40,250.90 381.40,251.40 390.30,251.40 390.30,252.70 392.96,252.70 392.96,253.80 395.62,253.80 395.62,254.90 397.80,254.90 397.80,255.80 399.22,255.80 399.22,256.90 400.00,256.90 400.00,257.50 405.40,257.50 405.40,257.70 422.50,257.70 422.50,258.30 430.59,258.30 430.59,259.40 435.00,259.40 435.00,260.00 456.25,260.00 457.07,260.00 457.07,261.10 457.90,261.10 457.90,262.20 458.20,262.20 458.20,262.60 475.80,262.60 477.03,262.60 477.03,263.70 477.70,263.70 477.70,264.30 486.00,264.30 486.00,264.50 486.13,264.50 486.13,265.60 486.30,265.60 486.30,267.00 499.80,267.00 500.00,267.00 500.00,267.80 512.50,267.80" fill="none" stroke="#000" stroke-width="0.8" stroke-linejoin="miter" stroke-dasharray="1.0 0.7"/>
<polyline points="300.40,165.80 300.64,165.80 300.64,166.90 300.87,166.90 300.87,168.00 301.11,168.00 301.11,169.10 301.34,169.10 301.34,170.20 301.58,170.20 301.58,171.30 301.81,171.30 301.81,172.40 302.05,172.40 302.05,173.50 302.28,173.50 302.28,174.60 302.52,174.60 302.52,175.70 302.75,175.70 302.75,176.80 302.99,176.80 302.99,177.90 303.20,177.90 303.20,178.90 304.26,178.90 304.26,180.00 305.32,180.00 305.32,181.10 305.70,181.10 305.70,181.50 306.11,181.50 306.11,182.60 306.52,182.60 306.52,183.70 306.93,183.70 306.93,184.80 307.33,184.80 307.33,185.90 307.74,185.90 307.74,187.00 308.15,187.00 308.15,188.10 308.30,188.10 308.30,188.50 308.62,188.50 308.62,189.60 308.95,189.60 308.95,190.70 309.27,190.70 309.27,191.80 309.60,191.80 309.60,192.90 309.92,192.90 309.92,194.00 310.25,194.00 310.25,195.10 310.57,195.10 310.57,196.20 310.90,196.20 310.90,197.30 311.22,197.30 311.22,198.40 311.40,198.40 311.40,199.00 311.82,199.00 311.82,200.10 312.24,200.10 312.24,201.20 312.67,201.20 312.67,202.30 313.09,202.30 313.09,203.40 313.51,203.40 313.51,204.50 313.93,204.50 313.93,205.60 314.36,205.60 314.36,206.70 314.78,206.70 314.78,207.80 315.20,207.80 315.20,208.90 316.01,208.90 316.01,210.00 316.82,210.00 316.82,211.10 317.63,211.10 317.63,212.20 318.44,212.20 318.44,213.30 319.25,213.30 319.25,214.40 320.06,214.40 320.06,215.50 320.80,215.50 320.80,216.50 321.77,216.50 321.77,217.60 322.74,217.60 322.74,218.70 323.71,218.70 323.71,219.80 324.68,219.80 324.68,220.90 325.30,220.90 325.30,221.60 326.88,221.60 326.88,222.70 327.60,222.70 327.60,223.20 328.36,223.20 328.36,224.30 329.11,224.30 329.11,225.40 329.87,225.40 329.87,226.50 330.62,226.50 330.62,227.60 330.90,227.60 330.90,228.00 331.75,228.00 331.75,229.10 332.60,229.10 332.60,230.20 334.09,230.20 334.09,231.30 335.59,231.30 335.59,232.40 337.08,232.40 337.08,233.50 338.57,233.50 338.57,234.60 340.20,234.60 340.20,235.80 343.15,235.80 343.15,236.90 345.30,236.90 345.30,237.70 346.55,237.70 346.55,238.80 347.80,238.80 347.80,239.90 349.05,239.90 349.05,241.00 350.30,241.00 350.30,242.10 353.09,242.10 353.09,243.20 355.87,243.20 355.87,244.30 358.66,244.30 358.66,245.40 361.70,245.40 361.70,246.60 365.00,246.60 365.00,247.60 368.22,247.60 368.22,248.70 371.43,248.70 371.43,249.80 372.60,249.80 372.60,250.20 374.09,250.20 374.09,251.30 375.57,251.30 375.57,252.40 377.06,252.40 377.06,253.50 377.60,253.50 377.60,253.90 382.97,253.90 382.97,255.00 388.35,255.00 388.35,256.10 390.30,256.10 390.30,256.50 402.90,256.50 402.90,257.70 405.00,257.70 405.00,258.75 422.50,258.75 423.75,258.75 423.75,260.00 435.00,260.00 435.85,260.00 435.85,261.10 436.69,261.10 436.69,262.20 437.50,262.20 437.50,263.25 451.25,263.25 452.50,263.25 452.50,264.60 486.00,264.60 486.18,264.60 486.18,265.70 486.30,265.70 486.30,266.40 499.80,266.40 500.00,266.40 500.00,267.40 512.50,267.40" fill="none" stroke="#111" stroke-width="0.95" stroke-linejoin="miter"/>
<text transform="translate(514.60 268.74) rotate(0.03) scale(1.11 1)" font-size="3.402" text-anchor="start">5%</text>
</svg>
</body></html>
